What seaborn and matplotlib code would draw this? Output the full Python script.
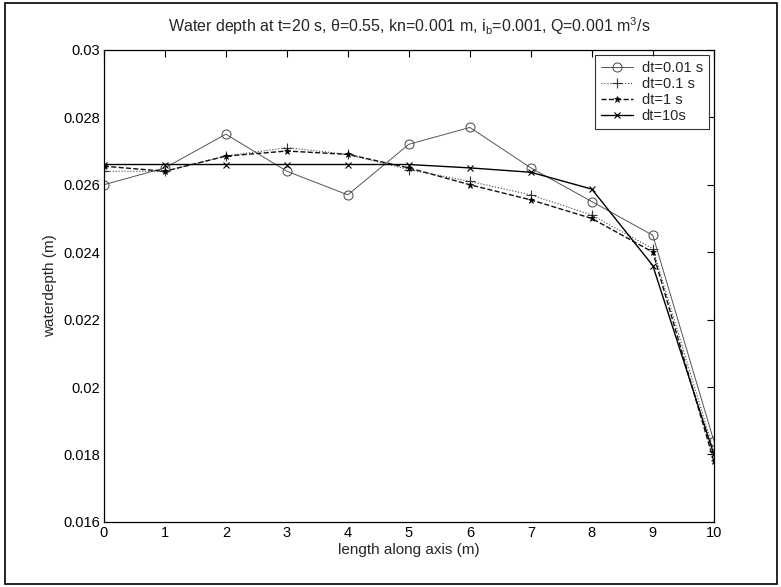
import numpy as np
import pandas as pd
import matplotlib.pyplot as plt
import seaborn as sns
from matplotlib.patches import Rectangle

# Datos
x_pos = [0, 1, 2, 3, 4, 5, 6, 7, 8, 9, 10]
dt_001 = [0.0260, 0.0265, 0.0275, 0.0264, 0.0257, 0.0272, 0.0277, 0.0265, 0.0255, 0.0245, 0.0184]
dt_01 = [0.0264, 0.0264, 0.02685, 0.0271, 0.0269, 0.02645, 0.0261, 0.0257, 0.0251, 0.0241, 0.0181]
dt_1 = [0.02655, 0.0264, 0.02685, 0.0270, 0.0269, 0.0265, 0.0260, 0.02555, 0.0250, 0.0240, 0.0178]
dt_10 = [0.0266, 0.0266, 0.0266, 0.0266, 0.0266, 0.0266, 0.0265, 0.02637, 0.02587, 0.0236, 0.0180]
labels = ["dt=0.01 s", "dt=0.1 s", "dt=1 s", "dt=10s"]

yticks = [0.016, 0.018, 0.020, 0.022, 0.024, 0.026, 0.028, 0.030]
ytick_labels = ["0.016", "0.018", "0.02", "0.022", "0.024", "0.026", "0.028", "0.03"]
xticks = list(range(11))

df = pd.DataFrame({
    "x": x_pos * 4,
    "depth": dt_001 + dt_01 + dt_1 + dt_10,
    "serie": sum([[lab] * len(x_pos) for lab in labels], []),
})

sns.set_style("white")
plt.rcParams['font.family'] = ['Liberation Sans', 'DejaVu Sans']

fig = plt.figure(figsize=(7.81, 5.87), dpi=100)
ax = fig.add_axes([0.133, 0.111, 0.781, 0.804])

estilos = {
    "dt=0.01 s": dict(color="#555555", linestyle="-", linewidth=0.7, marker="o",
                      markersize=6.5, markerfacecolor="none", markeredgecolor="#444444",
                      markeredgewidth=0.7),
    "dt=0.1 s": dict(color="#444444", linestyle=":", linewidth=0.8, marker="+",
                     markersize=7, markeredgecolor="#333333", markeredgewidth=0.8),
    "dt=1 s": dict(color="#111111", linestyle="--", linewidth=1.0, marker="*",
                   markersize=5, markerfacecolor="black", markeredgecolor="black",
                   markeredgewidth=0.5),
    "dt=10s": dict(color="black", linestyle="-", linewidth=1.0, marker="x",
                   markersize=5, markeredgecolor="black", markeredgewidth=0.8),
}

for lab in labels:
    sub = df[df["serie"] == lab]
    sns.lineplot(data=sub, x="x", y="depth", ax=ax, label=lab, **estilos[lab])

ax.set_xlim(0, 10)
ax.set_ylim(0.016, 0.030)
ax.set_xticks(xticks)
ax.set_xticklabels([str(t) for t in xticks])
ax.set_yticks(yticks)
ax.set_yticklabels(ytick_labels)
ax.tick_params(direction="in", length=5, width=0.8, top=True, right=True,
               labelsize=10.5, colors="black", pad=3)
for s in ax.spines.values():
    s.set_visible(True)
    s.set_color("black")
    s.set_linewidth(0.9)

ax.set_xlabel("length along axis (m)", fontsize=11, labelpad=2)
ax.set_ylabel("waterdepth (m)", fontsize=11, labelpad=4)
ax.set_title("Water depth at t=20 s, θ=0.55, kn=0.001 m, i$_\\mathregular{b}$=0.001, "
             "Q=0.001 m$^\\mathregular{3}$/s", fontsize=11.5, pad=13)

leg = ax.legend(loc="upper right", fontsize=10.5, frameon=True, fancybox=False,
                handlelength=2.2, borderaxespad=0.35, labelspacing=0.15,
                borderpad=0.4, handletextpad=0.6)
leg.get_frame().set_edgecolor("black")
leg.get_frame().set_linewidth(0.8)

# Marco de la figura escaneada
fig.patches.append(Rectangle((0.006, 0.005), 0.989, 0.99, transform=fig.transFigure,
                             fill=False, edgecolor="black", linewidth=1.2))

fig.savefig("out.png", dpi=100)
plt.close()
